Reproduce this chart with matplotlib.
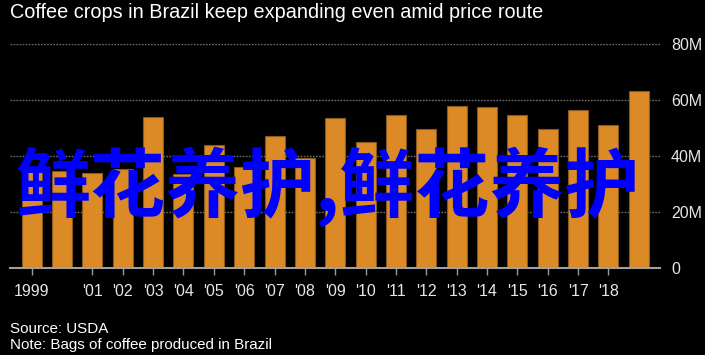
import numpy as np
import matplotlib
matplotlib.use('Agg')
import matplotlib.pyplot as plt

# brazil coffee production, million bags
years = list(range(1999, 2020))
crops = [35.7, 34.6, 34.0, 35.1, 53.8, 33.3, 43.7, 36.1, 47.0, 39.3, 53.4,
         44.9, 54.5, 49.5, 57.7, 57.3, 54.5, 49.5, 56.3, 50.9, 63.3]
tick_years = [1999] + list(range(2001, 2019))
tick_labels = ['1999'] + ["'%02d" % (y % 100) for y in range(2001, 2019)]
y_ticks = [0, 20, 40, 60, 80]
y_labels = ['0', '20M', '40M', '60M', '80M']

W, H = 705, 355
fig = plt.figure(figsize=(W / 100, H / 100), dpi=100, facecolor='black')
ax = fig.add_axes([10 / W, 1 - 267.5 / H, 650 / W, 223.5 / H], facecolor='black')

ax.bar(years, crops, width=0.66, color='#db8a26', edgecolor='#8a5a1c', linewidth=0.8, zorder=2)

ax.set_xlim(1998.285, 2019.70)
ax.set_ylim(0, 80)
ax.set_axisbelow(True)
ax.yaxis.grid(True, color='#6e6e6e', linestyle=(0, (1.2, 1.0)), linewidth=1.0)

ax.set_xticks(tick_years)
ax.set_xticklabels(tick_labels, fontsize=11.5, family='Liberation Sans', color='#e6e6e6')
ax.tick_params(axis='x', colors='#9a9a9a', length=5, width=1, pad=7, labelcolor='#e6e6e6')

ax.yaxis.tick_right()
ax.set_yticks(y_ticks)
ax.set_yticklabels(y_labels, fontsize=11.5, family='Liberation Sans', color='#e6e6e6')
ax.tick_params(axis='y', length=0, pad=8, labelcolor='#e6e6e6')

for s in ['top', 'left', 'right']:
    ax.spines[s].set_visible(False)
ax.spines['bottom'].set_color('#a0a0a0')
ax.spines['bottom'].set_linewidth(1.5)
ax.spines['bottom'].set_zorder(3)

fig.text(10 / W, 1 - 18.3 / H, 'Coffee crops in Brazil keep expanding even amid price route',
         fontsize=14.3, family='Liberation Sans', color='white', va='baseline')
fig.text(10 / W, 1 - 333.3 / H, 'Source: USDA', fontsize=10.9, family='Liberation Sans',
         color='white', va='baseline')
fig.text(10 / W, 1 - 348.7 / H, 'Note: Bags of coffee produced in Brazil', fontsize=10.9,
         family='Liberation Sans', color='white', va='baseline')

# watermark overlay
fig.text(328 / W, 1 - 187 / H, '鲜花养护,鲜花养护', fontsize=54, fontweight='bold',
         family=['Noto Sans CJK SC', 'DejaVu Sans'], color='#0000ff', ha='center', va='center', zorder=10)

fig.savefig('out.png', dpi=100, facecolor='black')
